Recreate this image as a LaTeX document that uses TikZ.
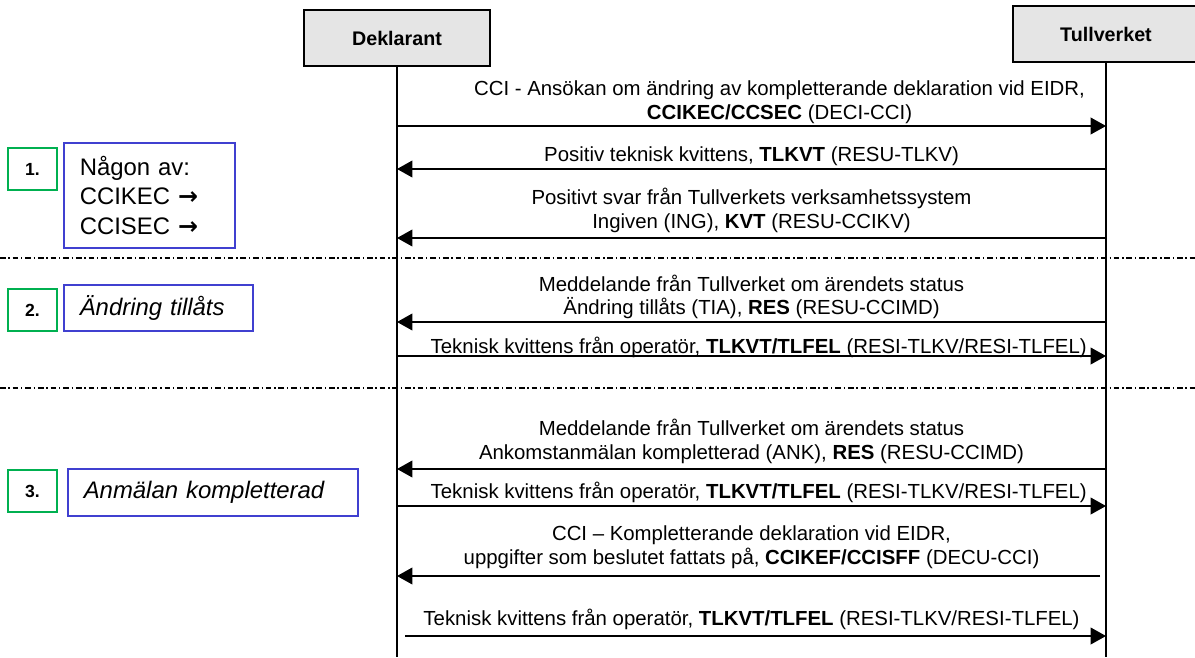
\documentclass[tikz,border=0pt]{standalone}
\usepackage{fontspec}
\setmainfont{Liberation Sans}
\newfontfamily\arrowfont{DejaVu Sans}
\usetikzlibrary{positioning,arrows.meta}

\definecolor{stepgreen}{RGB}{0,176,80}
\definecolor{noteblue}{RGB}{64,64,208}
\newcommand{\rarr}{{\arrowfont\bfseries →}}

\begin{document}
\begin{tikzpicture}[x=0.025cm, y=-0.025cm,
  every node/.style={font=\fontsize{14.5}{17}\selectfont},
  actor/.style={draw, line width=2pt, fill=black!10, minimum width=4.65cm,
    minimum height=1.4cm, font=\fontsize{14}{17}\selectfont\bfseries},
  life/.style={line width=1pt},
  msg/.style={line width=1pt, -{Triangle[length=11pt,width=12pt]}},
  lbl/.style={align=center, inner sep=0pt, anchor=south},
  sep/.style={line width=0.8pt, dash pattern=on 4pt off 2pt on 1pt off 2pt},
  stepnum/.style={draw=stepgreen, line width=1.5pt, minimum width=1.225cm,
    minimum height=1.05cm, font=\fontsize{12.5}{14}\selectfont\bfseries},
  stepnote/.style={draw=noteblue, line width=1.1pt, anchor=north west,
    inner xsep=0.4cm, align=left, font=\fontsize{17}{21}\selectfont}]
  \useasboundingbox (0,0) rectangle (1195,657);

  % actors and lifelines
  \node[actor] (dek) at (397,38) {Deklarant};
  \node[actor] (tull) at (1106,34) {Tullverket};
  \coordinate (dekend) at (397,657);
  \coordinate (tullend) at (1106,657);
  \draw[life] (dek) -- (dekend);
  \draw[life] (tull) -- (tullend);

  % message rows
  \foreach \i/\y in {1/126,2/169,3/238,4/322,5/356,6/469,7/506,8/576,9/636} {
    \coordinate (d\i) at (397,\y);
    \coordinate (t\i) at (1106,\y);
  }

  % step separators
  \coordinate (s1w) at (0,258);   \coordinate (s1e) at (1195,258);
  \coordinate (s2w) at (0,388);   \coordinate (s2e) at (1195,388);
  \draw[sep] (s1w) -- (s1e);
  \draw[sep] (s2w) -- (s2e);

  % step 1
  \draw[msg] (d1) -- node[lbl, above=1pt, xshift=0.7cm]
    {CCI - Ansökan om ändring av kompletterande deklaration vid EIDR,\\
     \textbf{CCIKEC/CCSEC} (DECI-CCI)} (t1);
  \draw[msg] (t2) -- node[lbl, above=1.5pt]
    {Positiv teknisk kvittens, \textbf{TLKVT} (RESU-TLKV)} (d2);
  \draw[msg] (t3) -- node[lbl, above=3.5pt]
    {Positivt svar från Tullverkets verksamhetssystem\\
     Ingiven (ING), \textbf{KVT} (RESU-CCIKV)} (d3);

  % step 2
  \draw[msg] (t4) -- node[lbl, above=1.5pt]
    {Meddelande från Tullverket om ärendets status\\
     Ändring tillåts (TIA), \textbf{RES} (RESU-CCIMD)} (d4);
  \draw[msg] (d5) -- node[lbl, above=-1.5pt, xshift=0.18cm]
    {Teknisk kvittens från operatör, \textbf{TLKVT/TLFEL} (RESI-TLKV/RESI-TLFEL)} (t5);

  % step 3
  \draw[msg] (t6) -- node[lbl, above=3pt]
    {Meddelande från Tullverket om ärendets status\\
     Ankomstanmälan kompletterad (ANK), \textbf{RES} (RESU-CCIMD)} (d6);
  \draw[msg] (d7) -- node[lbl, above=1.5pt, xshift=0.18cm]
    {Teknisk kvittens från operatör, \textbf{TLKVT/TLFEL} (RESI-TLKV/RESI-TLFEL)} (t7);
  \draw[msg, shorten <=0.15cm] (t8) -- node[lbl, above=5pt]
    {CCI – Kompletterande deklaration vid EIDR,\\
     uppgifter som beslutet fattats på, \textbf{CCIKEF/CCISFF} (DECU-CCI)} (d8);
  \draw[msg, shorten <=0.2cm] (d9) -- node[lbl, above=4pt]
    {Teknisk kvittens från operatör, \textbf{TLKVT/TLFEL} (RESI-TLKV/RESI-TLFEL)} (t9);

  % step labels
  \node[stepnum] (num1) at (32.5,169) {1.};
  \node[stepnote, text width=3.475cm, minimum height=2.625cm] (note1) at (63,142)
    {Någon av:\\CCIKEC \rarr\\CCISEC \rarr};
  \node[stepnum] (num2) at (32.5,310) {2.};
  \node[stepnote, text width=3.925cm, minimum height=1.15cm] (note2) at (63,284)
    {\itshape Ändring tillåts};
  \node[stepnum] (num3) at (32.5,491) {3.};
  \node[stepnote, text width=6.45cm, minimum height=1.175cm] (note3) at (67,468)
    {\itshape Anmälan kompletterad};
\end{tikzpicture}
\end{document}
